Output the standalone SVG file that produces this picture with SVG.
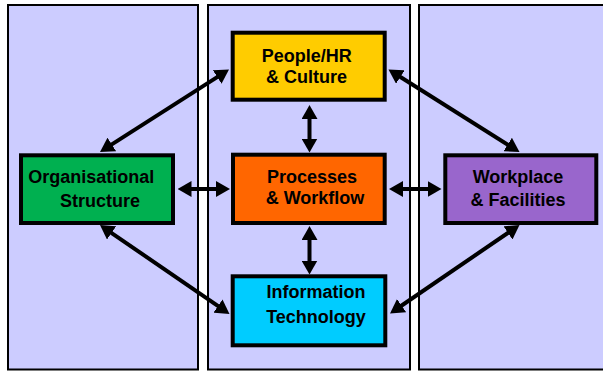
<svg xmlns="http://www.w3.org/2000/svg" width="603" height="371" viewBox="0 0 603 371">
<style>
.panel{fill:#CCCCFF;stroke:#000;stroke-width:2}
.box{stroke:#000;stroke-width:4}
.lbl{font-family:"Liberation Sans",Arial,sans-serif;font-weight:bold;font-size:18px;fill:#000;text-anchor:middle}
.conn{stroke:#000;stroke-width:4;fill:none;marker-start:url(#ah);marker-end:url(#ah)}
</style>
<defs>
<marker id="ah" viewBox="0 0 14 16" markerWidth="14" markerHeight="16" markerUnits="userSpaceOnUse" refX="6" refY="8" orient="auto-start-reverse">
<path d="M0,0 L14,8 L0,16 z" fill="#000"/>
</marker>
</defs>
<g id="panels">
<rect class="panel" x="8" y="5" width="190" height="364.5"/>
<rect class="panel" x="208" y="5" width="202" height="364.5"/>
<rect class="panel" x="419" y="5" width="200" height="364.5"/>
</g>
<g id="connectors">
<line class="conn" x1="309.5" y1="113" x2="309.5" y2="144.5"/>
<line class="conn" x1="309.5" y1="234" x2="309.5" y2="266.5"/>
<line class="conn" x1="185.5" y1="189" x2="222" y2="189"/>
<line class="conn" x1="397" y1="189" x2="433.5" y2="189"/>
<line class="conn" x1="106.74" y1="147.69" x2="222.26" y2="73.81"/>
<line class="conn" x1="395.27" y1="73.76" x2="512.73" y2="147.74"/>
<line class="conn" x1="106.59" y1="229.53" x2="222.91" y2="309.47"/>
<line class="conn" x1="512.9" y1="229.51" x2="396.6" y2="308.99"/>
</g>
<g id="people">
<rect class="box" x="232.7" y="32.7" width="152" height="67" fill="#FFCC00"/>
<text class="lbl" x="306.7" y="61.5">People/HR</text>
<text class="lbl" x="306.5" y="82.7">&amp; Culture</text>
</g>
<g id="org">
<rect class="box" x="21" y="155.3" width="152" height="67.7" fill="#00B050"/>
<text class="lbl" x="91.3" y="183.3">Organisational</text>
<text class="lbl" x="100" y="207">Structure</text>
</g>
<g id="processes">
<rect class="box" x="233" y="154.7" width="151.7" height="68.3" fill="#FF6600"/>
<text class="lbl" x="312" y="183.3">Processes</text>
<text class="lbl" x="315" y="204.3">&amp; Workflow</text>
</g>
<g id="workplace">
<rect class="box" x="445.3" y="155.3" width="151" height="67.7" fill="#9966CC"/>
<text class="lbl" x="518" y="183">Workplace</text>
<text class="lbl" x="518" y="205.5">&amp; Facilities</text>
</g>
<g id="it">
<rect class="box" x="232.7" y="276.3" width="152.6" height="69" fill="#00CCFF"/>
<text class="lbl" x="316" y="298.3">Information</text>
<text class="lbl" x="316" y="322.7">Technology</text>
</g>
</svg>
